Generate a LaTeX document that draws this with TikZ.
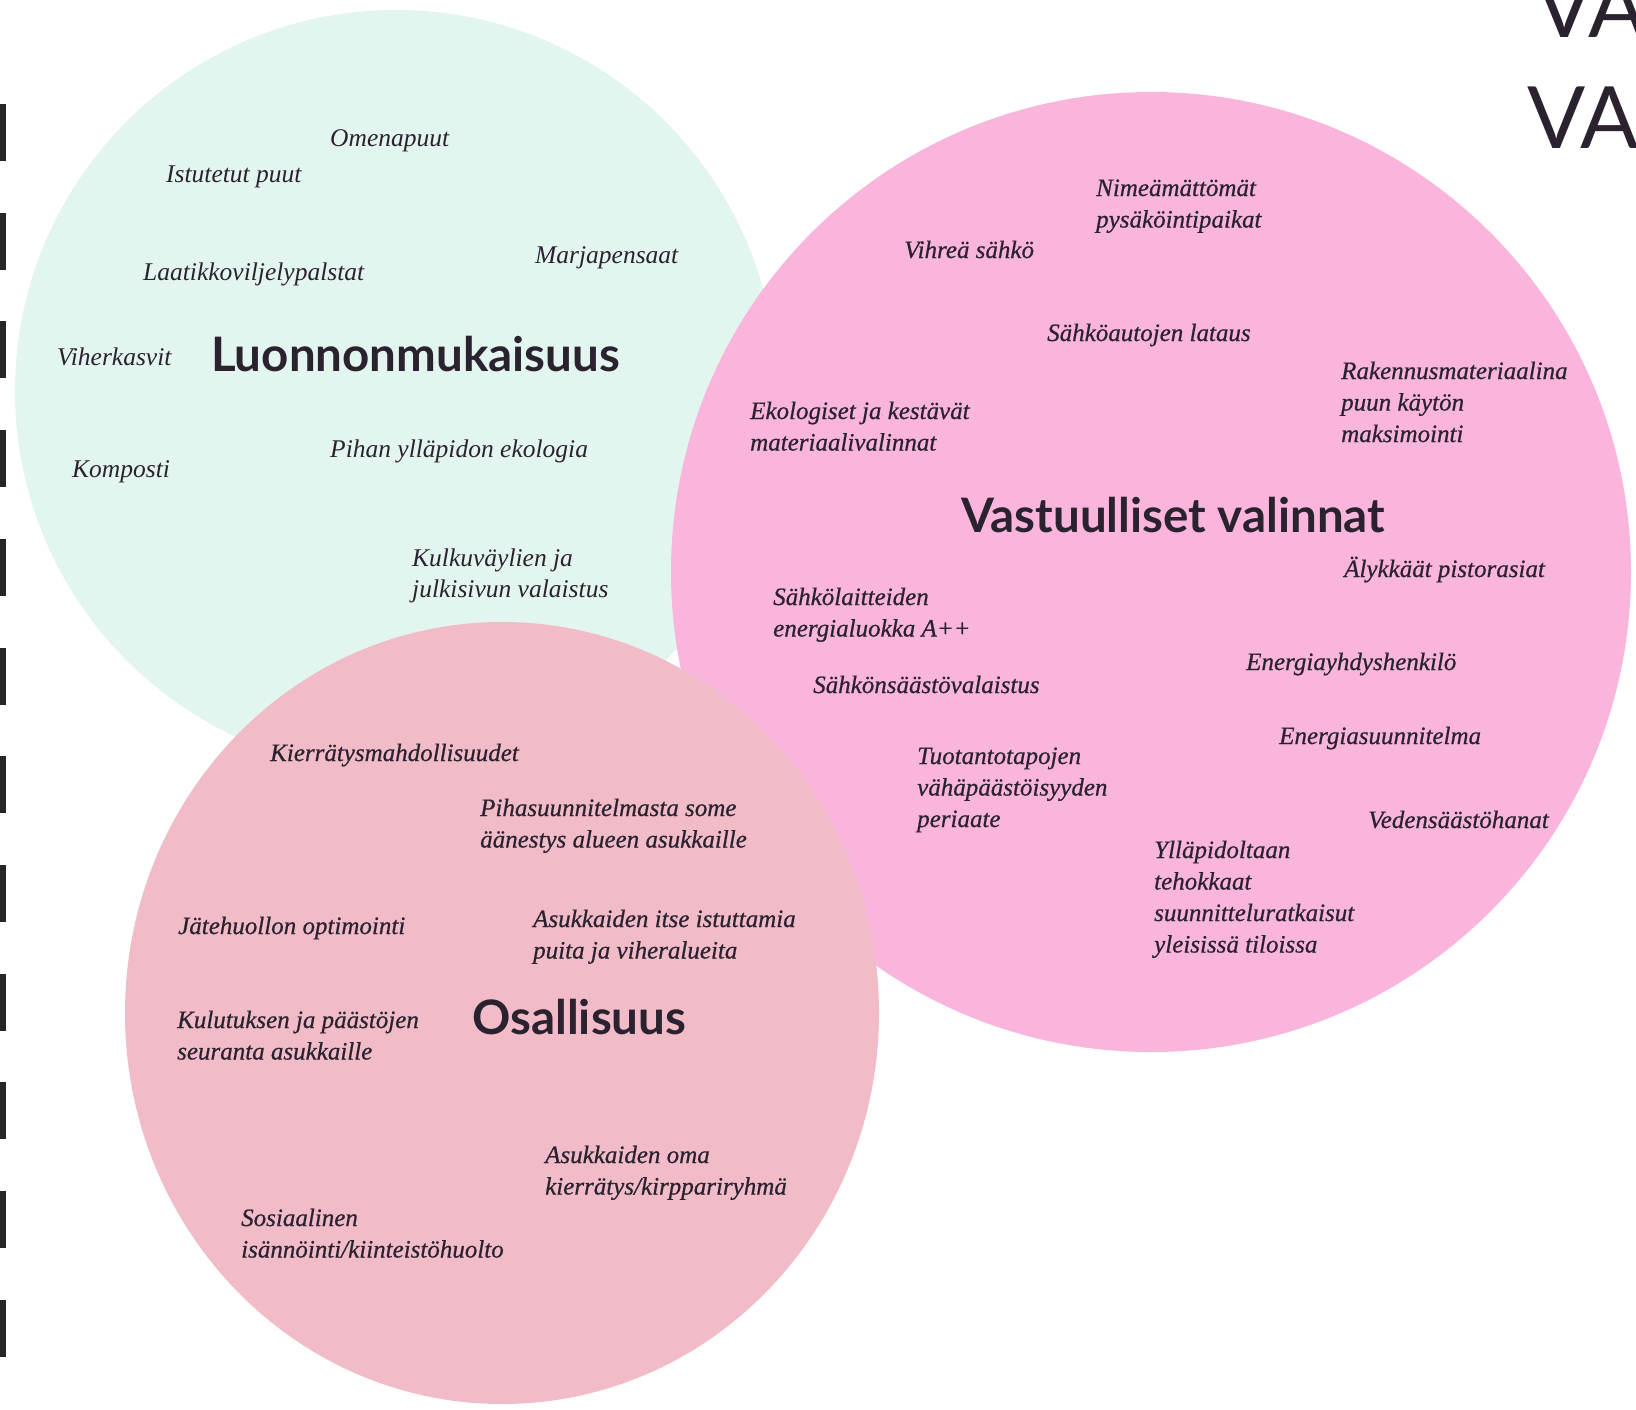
\documentclass[tikz,border=0pt]{standalone}
\usepackage{fontspec}
\setmainfont{Liberation Serif}
\newfontfamily\titlefam{Lato}
\newfontfamily\heavyfam[FakeBold=0.6]{Liberation Serif}
\usetikzlibrary{positioning}

\definecolor{greenbg}{HTML}{E3F5EF}
\definecolor{pinkbg}{HTML}{F9B5DC}
\definecolor{rosebg}{HTML}{F1BCC8}
\definecolor{inkcol}{HTML}{2B2230}

\begin{document}
\begin{tikzpicture}[
    x=1pt, y=-1pt,
    % Text styles (multi-line nodes sit on the baseline of their last line)
    itemtext/.style={anchor=base west, inner sep=0pt, align=left, text=inkcol, font=\fontsize{25.5}{31.5}\selectfont\itshape},
    itembold/.style={itemtext, font=\fontsize{25}{31.5}\selectfont\heavyfam\itshape},
    titletext/.style={anchor=base west, inner sep=0pt, text=inkcol, font=\fontsize{47.5}{50}\selectfont\titlefam\bfseries},
    bigletters/.style={anchor=base west, inner sep=0pt, text=inkcol, font=\fontsize{86}{90}\selectfont\titlefam},
    bindmark/.style={fill=black!85}
]
\useasboundingbox (0,0) rectangle (1636,1409);

% ========== CIRCLES ==========
\fill[greenbg] (396,391) circle[radius=381pt];
\fill[pinkbg] (1151,572) circle[radius=480pt];
\fill[rosebg] (502,1013) ellipse[x radius=377pt, y radius=391pt];

% Binding marks on the left edge
\foreach \i in {0,...,11}
    \fill[bindmark] (0,{104+108.7*\i}) rectangle (6,{161+108.7*\i});

% Cut-off heading, top right
\node[bigletters] (va1) at (1535,37) {VA};
\node[bigletters] (va2) at (1527,148) {VA};

% ========== LUONNONMUKAISUUS ==========
\node[titletext] (luonto) at (211,371) {Luonnonmukaisuus};
\node[itemtext] (omena) at (330,146) {Omenapuut};
\node[itemtext] (puut) at (166,182) {Istutetut puut};
\node[itemtext] (palstat) at (143,280) {Laatikkoviljelypalstat};
\node[itemtext] (marja) at (535,263) {Marjapensaat};
\node[itemtext] (viher) at (57,365) {Viherkasvit};
\node[itemtext] (kompo) at (72,477) {Komposti};
\node[itemtext] (piha) at (330,457) {Pihan ylläpidon ekologia};
\node[itemtext] (valais) at (412,597.5) {Kulkuväylien ja\\julkisivun valaistus};

% ========== VASTUULLISET VALINNAT ==========
\node[titletext] (vastuu) at (961,532) {Vastuulliset valinnat};
\node[itembold] (nimeam) at (1096,227.5) {Nimeämättömät\\pysäköintipaikat};
\node[itembold] (vihrea) at (904,258) {Vihreä sähkö};
\node[itembold] (lataus) at (1047,341) {Sähköautojen lataus};
\node[itembold] (rakenn) at (1341,442) {Rakennusmateriaalina\\puun käytön\\maksimointi};
\node[itembold] (ekolog) at (750,450.5) {Ekologiset ja kestävät\\materiaalivalinnat};
\node[itembold] (pistor) at (1344,577) {Älykkäät pistorasiat};
\node[itembold] (laitteet) at (773,636.5) {Sähkölaitteiden\\energialuokka A++};
\node[itembold] (yhdys) at (1246,670) {Energiayhdyshenkilö};
\node[itembold] (saasto) at (813,693) {Sähkönsäästövalaistus};
\node[itembold] (suunn) at (1279,744) {Energiasuunnitelma};
\node[itembold] (tuotanto) at (917,827) {Tuotantotapojen\\vähäpäästöisyyden\\periaate};
\node[itembold] (hanat) at (1368,828) {Vedensäästöhanat};
\node[itembold] (yllapito) at (1154,952.5) {Ylläpidoltaan\\tehokkaat\\suunnitteluratkaisut\\yleisissä tiloissa};

% ========== OSALLISUUS ==========
\node[titletext] (osall) at (472,1034) {Osallisuus};
\node[itembold] (kierr) at (270,761) {Kierrätysmahdollisuudet};
\node[itembold] (aanest) at (480,847.5) {Pihasuunnitelmasta some\\äänestys alueen asukkaille};
\node[itembold] (jate) at (178,934) {Jätehuollon optimointi};
\node[itembold] (istut) at (533,958.5) {Asukkaiden itse istuttamia\\puita ja viheralueita};
\node[itembold] (kulut) at (177,1059.5) {Kulutuksen ja päästöjen\\seuranta asukkaille};
\node[itembold] (kirppis) at (545,1194.5) {Asukkaiden oma\\kierrätys/kirppariryhmä};
\node[itembold] (isann) at (241,1257.5) {Sosiaalinen\\isännöinti/kiinteistöhuolto};

\end{tikzpicture}
\end{document}
